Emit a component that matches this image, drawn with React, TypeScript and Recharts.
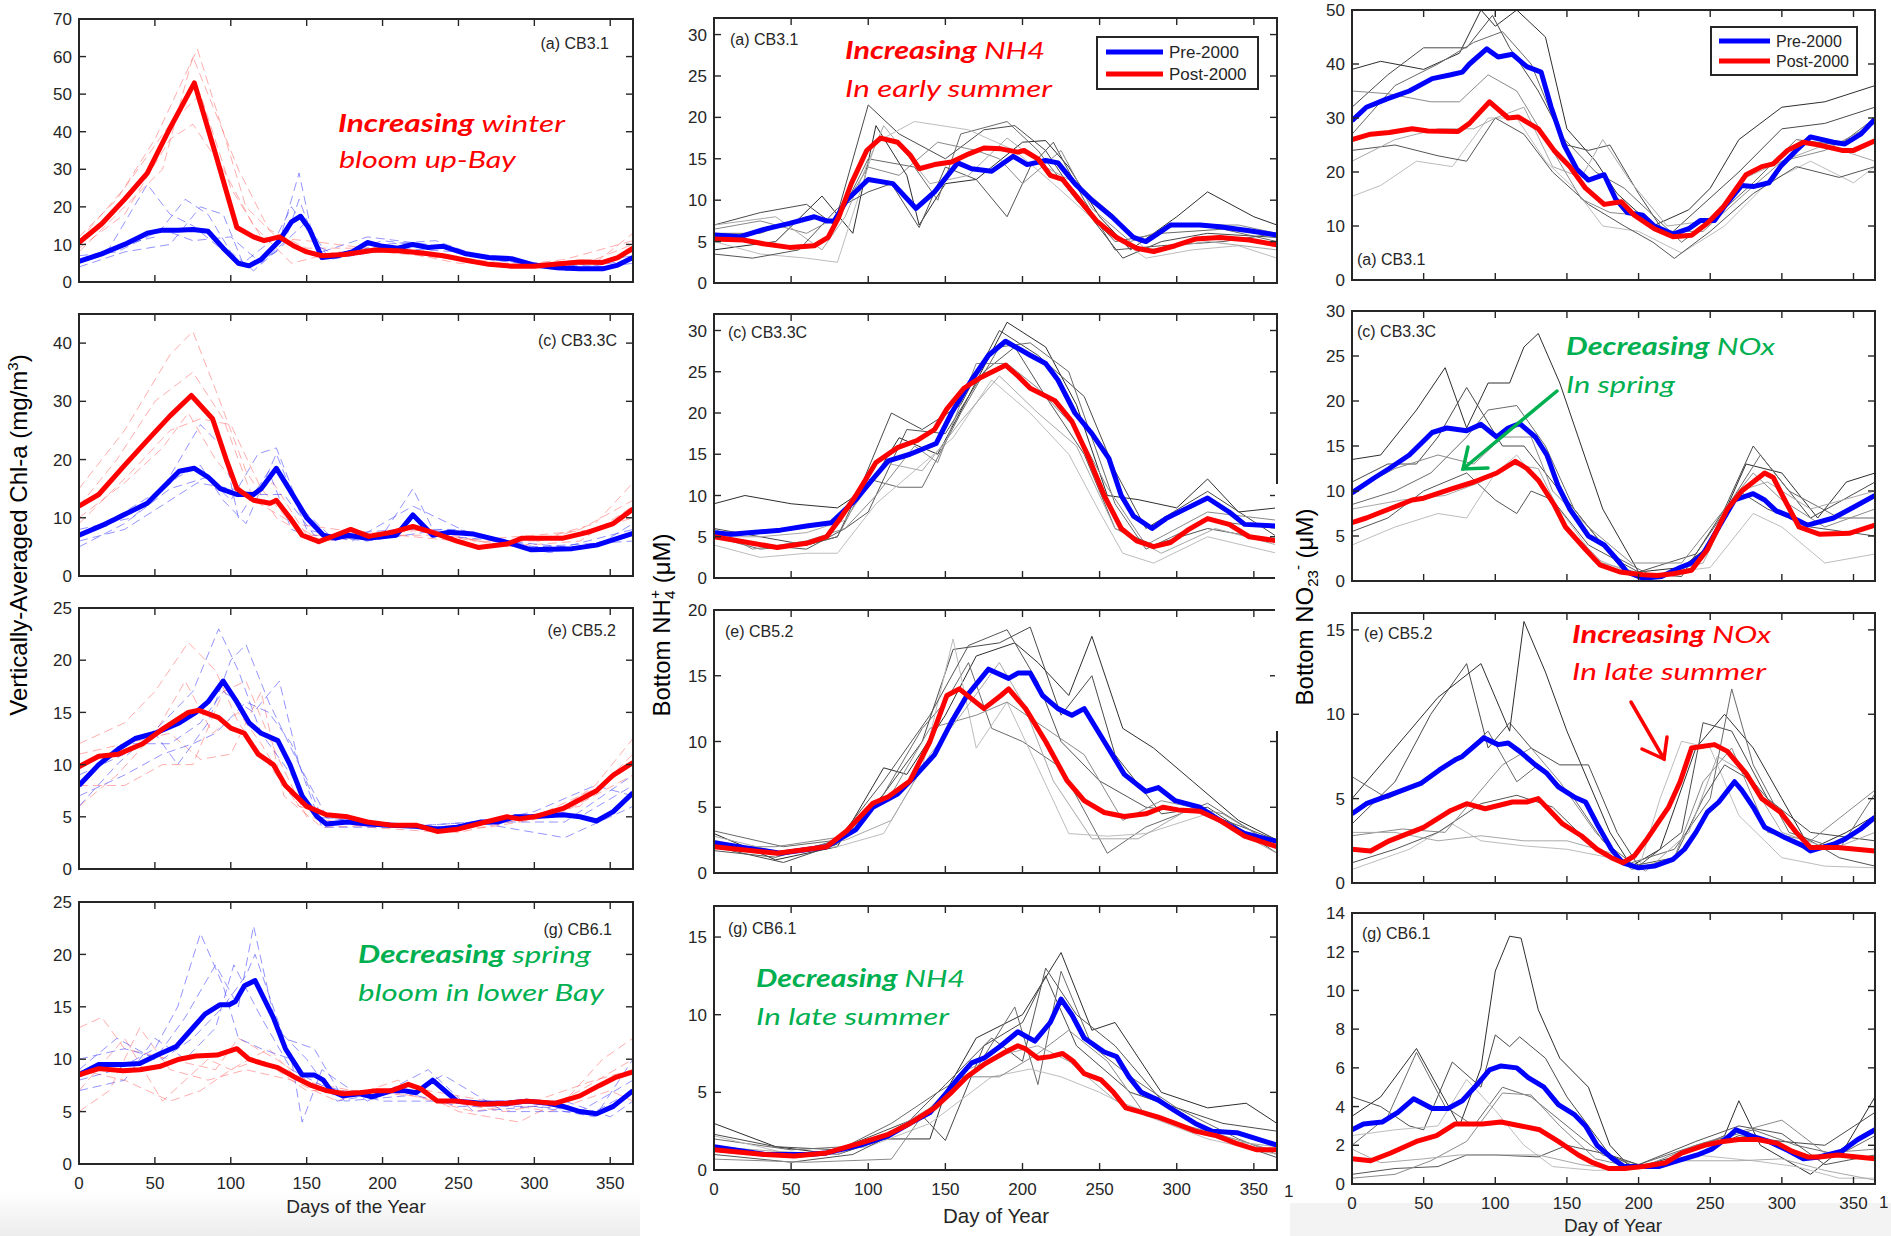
import React from "react";
import { LineChart, Line, XAxis, YAxis } from "recharts";

type Pt = [number, number];

// ---------- axis ticks ----------
const DAY_TICKS = [0, 50, 100, 150, 200, 250, 300, 350];
const TICKS_70 = [0, 10, 20, 30, 40, 50, 60, 70];
const TICKS_40 = [0, 10, 20, 30, 40];
const TICKS_25 = [0, 5, 10, 15, 20, 25];
const TICKS_30 = [0, 5, 10, 15, 20, 25, 30];
const TICKS_20 = [0, 5, 10, 15, 20];
const TICKS_15 = [0, 5, 10, 15];
const TICKS_50 = [0, 10, 20, 30, 40, 50];
const TICKS_14 = [0, 2, 4, 6, 8, 10, 12, 14];

// ---------- Chl-a, CB3.1 ----------
const A1_PRE: Pt[] = [[0,5.5],[15,7.5],[30,10],[45,13],[55,13.8],[65,13.8],[75,14],[85,13.5],[95,9],[105,5],[112,4.3],[120,6],[132,11],[140,16],[146,17.5],[152,14],[160,6.5],[170,7],[180,8],[190,10.5],[200,9.5],[210,9],[220,10],[230,9.2],[240,9.5],[255,7.5],[270,6.5],[285,6.2],[300,4.5],[315,3.8],[330,3.5],[345,3.5],[355,4.5],[365,6.5]];
const A1_POST: Pt[] = [[0,10.5],[15,15.5],[30,22],[45,29],[60,41],[76,53],[90,34],[104,14.5],[115,12],[122,11],[132,12],[142,9.5],[150,8],[160,7],[175,7.3],[195,8.5],[210,8.3],[225,7.8],[240,7],[255,5.8],[270,4.7],[285,4.2],[300,4.2],[315,4.8],[330,5.3],[345,5.2],[355,6.5],[365,9]];
const A1_YRS_PRE: Pt[][] = [
  [[0,5],[20,9],[45,26],[60,18],[75,15],[90,10],[110,4],[130,8],[145,29],[155,10],[170,7],[200,11],[240,9],[280,6],[320,3],[365,6]],
  [[0,6],[30,10],[50,12],[70,22],[85,18],[100,8],[115,3],[135,10],[145,22],[160,6],[200,10],[235,11],[270,6],[320,4],[365,7]],
  [[0,4],[30,8],[60,10],[80,20],[95,18],[108,5],[130,12],[140,20],[160,8],[190,12],[230,10],[270,6],[330,3],[365,5]],
  [[0,7],[25,8],[55,14],[75,11],[100,12],[120,5],[150,16],[165,6],[210,9],[250,8],[300,5],[350,4],[365,6]],
];
const A1_YRS_POST: Pt[][] = [
  [[0,12],[25,22],[50,38],[78,62],[95,40],[110,20],[130,12],[160,7],[200,8],[250,6],[300,4],[340,5],[365,13]],
  [[0,8],[30,20],[55,30],[75,60],[90,45],[105,30],[125,14],[150,9],[200,9],[250,5],[300,5],[340,6],[365,10]],
  [[0,9],[30,18],[60,38],[75,42],[95,30],[115,15],[140,5],[170,8],[210,8],[260,6],[300,4],[340,5],[365,8]],
  [[0,11],[30,25],[60,42],[80,50],[100,25],[120,12],[150,11],[190,9],[230,7],[280,4],[320,6],[365,11]],
];

// ---------- Chl-a, CB3.3C ----------
const A2_PRE: Pt[] = [[0,7],[18,9],[45,12.5],[66,18],[76,18.5],[85,17],[93,15],[104,14],[115,14],[120,15],[130,18.5],[136,16],[150,10],[161,7],[169,6.5],[177,7],[190,6.5],[209,7],[220,10.5],[233,7],[244,7.5],[260,7.2],[279,6],[298,4.5],[325,4.7],[341,5.3],[365,7.3]];
const A2_POST: Pt[] = [[0,12],[13,14],[30,19],[45,23.3],[60,27.5],[74,31],[88,27],[97,20],[104,15],[115,13],[126,12.5],[130,13],[139,10],[147,7],[158,5.9],[169,7],[179,8],[191,6.8],[206,7.5],[220,8.5],[233,7.5],[249,6],[263,4.9],[282,5.5],[292,6.5],[319,6.5],[335,7.5],[352,9],[365,11.5]];
const A2_YRS_PRE: Pt[][] = [
  [[0,7],[30,11],[55,15],[80,26],[95,22],[105,10],[125,18],[140,8],[160,6],[200,7],[220,15],[235,7],[280,6],[320,5],[365,8]],
  [[0,5],[30,9],[60,15],[85,17],[100,13],[118,21],[130,22],[145,12],[165,7],[210,8],[250,8],[300,5],[365,6]],
  [[0,8],[35,10],[65,17],[80,19],[95,13],[110,9],[130,21],[150,8],[180,6],[220,12],[260,7],[310,4],[365,7]],
  [[0,6],[30,8],[60,13],[78,16],[100,15],[120,14],[135,14],[155,7],[190,6],[240,8],[290,5],[340,5],[365,9]],
];
const A2_YRS_POST: Pt[][] = [
  [[0,15],[30,25],[60,38],[75,42],[90,32],[110,18],[130,10],[150,7],[180,7],[220,8],[260,6],[300,6],[340,9],[365,16]],
  [[0,12],[25,20],[50,30],[75,35],[95,27],[115,13],[135,10],[160,6],[200,7],[240,7],[290,5],[330,8],[365,13]],
  [[0,9],[35,18],[60,25],[80,27],[100,26],[120,15],[140,9],[170,8],[210,7],[250,6],[300,7],[340,8],[365,10]],
  [[0,10],[30,16],[55,22],[72,28],[90,20],[110,14],[128,16],[150,7],[190,7],[230,8],[280,5],[330,6],[365,12]],
];

// ---------- Chl-a, CB5.2 ----------
const A3_PRE: Pt[] = [[0,8],[13,10],[26,11.5],[37,12.5],[50,13],[66,14],[77,15],[85,16],[95,18],[104,16],[112,14],[120,13],[131,12.3],[139,10],[147,7],[157,5],[163,4.3],[177,4.5],[190,4.3],[206,4.2],[222,4.1],[236,3.8],[249,4],[265,4.5],[276,4.5],[287,5],[298,5],[319,5.2],[330,5],[341,4.6],[352,5.5],[365,7.3]];
const A3_POST: Pt[] = [[0,9.8],[13,10.8],[26,11],[42,12],[56,13.5],[72,15],[79,15.2],[92,14.5],[100,13.5],[109,13],[118,11],[128,10],[136,8],[150,6],[163,5.2],[177,5],[190,4.5],[206,4.2],[222,4.2],[236,3.6],[249,3.8],[268,4.5],[282,5],[290,4.8],[300,5],[319,5.8],[341,7.5],[352,9],[365,10.2]];
const A3_YRS_PRE: Pt[][] = [
  [[0,6],[25,10],[55,14],[75,17],[92,23],[105,19],[120,13],[140,9],[155,5],[190,4.5],[240,4],[290,5],[330,5],[365,8]],
  [[0,9],[30,11],[50,13],[65,10],[85,14],[100,20],[110,21.5],[125,16],[145,10],[165,4.5],[210,4],[260,4.5],[320,3],[365,6]],
  [[0,8],[30,12],[60,12],[80,14],[95,17],[115,15],[132,18],[145,10],[160,5],[200,4.2],[250,4],[300,5.5],[340,8],[365,7]],
  [[0,7],[30,9],[55,11],[75,12],[90,13],[110,16],[125,15],[140,12],[160,4],[210,4],[260,4.5],[320,4.5],[365,9]],
];
const A3_YRS_POST: Pt[][] = [
  [[0,12],[30,14],[50,17],[72,21.7],[90,19],[105,14],[125,10],[145,6],[170,5],[220,4],[270,4],[310,5],[340,8],[365,12.5]],
  [[0,8],[30,8],[55,10],[75,10],[95,17],[110,18],[130,11],[150,5],[190,4],[240,3.5],[290,5],[330,6],[365,11]],
  [[0,6],[25,9],[50,13],[70,18],[88,13],[105,15],[120,12],[145,6],[180,4.5],[230,4],[280,4.5],[320,5.5],[365,9]],
  [[0,11],[30,12],[60,13],[80,10.5],[100,11],[120,17],[135,7],[160,4],[200,4.2],[250,3.5],[300,5],[345,8],[365,10]],
];

// ---------- Chl-a, CB6.1 ----------
const A4_PRE: Pt[] = [[0,8.5],[13,9.5],[29,9.5],[40,9.6],[53,10.5],[64,11.2],[72,12.5],[83,14.3],[93,15.2],[99,15.2],[103,15.5],[109,17],[116,17.5],[128,14],[136,11],[147,8.5],[155,8.5],[161,8],[166,7],[174,6.5],[185,6.7],[193,6.4],[206,7],[214,7],[222,6.8],[233,8],[241,7],[249,6],[265,5.8],[282,5.8],[295,6],[309,5.8],[319,5.5],[330,5],[341,4.8],[352,5.5],[365,7]];
const A4_POST: Pt[] = [[0,8.5],[13,9.1],[29,8.9],[40,9],[53,9.3],[66,10],[77,10.3],[91,10.4],[104,11],[112,10],[123,9.5],[131,9.2],[142,8.3],[153,7.5],[163,7],[174,6.7],[185,6.8],[196,7],[206,7],[217,7.6],[225,7.2],[236,6],[249,6],[265,5.7],[282,5.8],[295,6],[314,5.8],[330,6.5],[343,7.5],[354,8.3],[365,8.8]];
const A4_YRS_PRE: Pt[][] = [
  [[0,8],[25,9],[50,11],[65,15],[80,22],[95,17],[105,12],[120,11],[140,10],[147,4],[160,9],[190,6],[230,9],[260,5],[300,5.5],[340,4.5],[365,10]],
  [[0,9],[25,12],[50,10],[70,14],[90,19],[105,15],[115,22.7],[130,13],[150,10],[170,6],[210,7],[250,5.5],[300,5.5],[340,5],[365,7]],
  [[0,10],[30,11],[55,10],[75,12],[95,15],[110,18],[116,20],[135,12],[155,11],[175,6],[215,6.5],[240,8.5],[280,5],[330,5],[365,8]],
  [[0,7],[30,8],[50,12],[70,10],[90,13],[102,19],[120,14],[140,9],[160,7.5],[200,6],[240,6],[280,6],[320,6],[350,4.5],[365,6]],
];
const A4_YRS_POST: Pt[][] = [
  [[0,13],[15,14],[30,11],[60,10],[90,9],[105,12],[130,10],[160,7],[200,7],[240,6],[280,5],[320,6],[345,10],[365,12]],
  [[0,5],[20,7],[40,13],[60,9],[85,8],[110,9],[140,8],[170,6],[210,8],[250,5],[290,4],[330,7],[365,10]],
  [[0,7],[30,12],[55,6],[85,10],[100,9],[120,10],[150,7],[190,7],[230,7],[270,6],[310,5],[350,7],[365,6]],
  [[0,9],[30,8],[60,6],[80,7],[100,9],[125,11],[145,8],[180,7],[220,6.5],[260,5],[300,6],[340,8],[365,9]],
];

// ---------- Bottom NH4, CB3.1 ----------
const B1_PRE: Pt[] = [[0,5.8],[17,5.6],[33,6.5],[49,7.2],[65,8],[73,7.5],[78,7.5],[86,10],[100,12.5],[116,12],[131,9],[143,11],[158,14.5],[167,13.8],[180,13.5],[194,15.3],[203,14.3],[215,14.8],[223,14.5],[234,12],[245,10],[258,8],[272,5.5],[280,5],[288,6],[296,7],[315,7],[328,6.8],[347,6.3],[365,5.8]];
const B1_POST: Pt[] = [[0,5.3],[19,5.2],[33,4.7],[49,4.3],[65,4.5],[74,5.5],[81,8],[89,12],[99,16],[108,17.5],[119,17],[127,15.5],[133,13.8],[143,14.3],[154,14.6],[164,15.5],[175,16.3],[186,16.2],[197,15.8],[201,16],[210,15],[218,13],[226,12.5],[237,10],[248,7.5],[261,5.5],[274,4.2],[285,3.8],[299,4.5],[312,5.3],[328,5.5],[347,5.2],[365,4.6]];
const B1_YRS: Pt[][] = [
  [[0,4],[40,5],[70,10.5],[90,6],[105,19],[125,13],[133,7],[150,12],[170,12.5],[200,17],[215,17.2],[230,14],[250,8],[270,4],[300,8],[320,11],[350,8],[365,7]],
  [[0,7],[30,8.5],[60,9.5],[78,7],[100,21.5],[120,18],[150,15],[175,18.5],[195,19],[215,16],[240,9],[265,3],[290,5],[320,6],[365,5.5]],
  [[0,6],[30,6],[60,8],[80,7.5],[100,15],[130,14],[145,10],[160,18],[190,19.5],[210,16],[235,10],[260,5],[290,6],[330,6.5],[365,5]],
  [[0,5],[30,3.5],[60,3],[80,2.5],[105,17],[130,19.5],[165,18.5],[195,16],[220,12],[250,7],[280,3],[310,4],[340,4.5],[365,3]],
  [[0,3.5],[25,3],[55,4],[80,9],[100,11],[115,12],[133,6.7],[150,14],[170,12.5],[190,8],[205,14],[220,17],[240,10],[260,4],[290,4.5],[330,5],[365,6]],
  [[0,6.5],[30,7.5],[60,6],[80,8],[100,14],[120,13],[145,17],[170,16],[185,15],[200,12],[225,16],[245,9],[270,5],[300,7],[340,7],[365,6]],
  [[0,7],[40,8],[70,4],[85,8],[110,19],[140,12],[165,13],[190,17.5],[215,14],[235,12],[260,8],[280,4],[320,5],[365,4]],
];

// ---------- Bottom NH4, CB3.3C ----------
const B2_PRE: Pt[] = [[0,5.5],[11,5.3],[43,5.8],[60,6.3],[76,6.7],[92,9.5],[103,12],[113,14.2],[127,15],[144,16.3],[154,20],[167,24],[178,27],[189,28.7],[205,27],[215,26],[223,24],[234,20],[245,17.5],[256,14.5],[264,10],[272,7.5],[284,6],[293,7.2],[307,8.5],[320,9.7],[334,8],[344,6.5],[365,6.3]];
const B2_POST: Pt[] = [[0,5],[22,4.3],[41,3.7],[60,4.2],[73,5],[81,7],[92,10],[105,14],[119,15.8],[132,16.7],[143,18],[151,20.5],[162,23],[172,24.2],[189,25.8],[197,24.5],[205,23],[221,21.5],[232,19],[242,15],[253,10],[264,6],[274,4.5],[285,3.8],[296,4.3],[307,5.8],[320,7.2],[334,6.5],[347,5],[365,4.5]];
const B2_YRS: Pt[][] = [
  [[0,9],[20,10],[50,9],[80,8.5],[100,11],[120,17],[145,15],[165,22],[190,31],[215,28],[235,21],[255,10],[275,9.5],[300,8.5],[320,12],[340,8],[365,8.5]],
  [[0,6],[30,5],[60,4],[80,5],[95,11],[115,20],[135,18],[160,21],[185,30],[210,27],[240,22],[260,13],[280,6],[320,10.5],[365,5]],
  [[0,5],[30,3.5],[60,4],[80,5],[100,12],[120,11],[135,11],[160,20],[185,28],[205,28.5],[230,25],[260,9],[280,3.5],[320,7],[365,6]],
  [[0,4],[30,2.5],[60,3],[80,3],[105,9],[130,13],[155,17],[180,24],[205,20],[230,15],[250,8],[265,3],[285,1.8],[320,5],[365,3]],
  [[0,5],[30,4],[60,3.5],[85,6],[100,8],[125,18],[150,17.5],[175,25],[195,28],[215,22],[240,15],[260,6],[285,4],[320,6],[365,4.5]],
  [[0,6],[25,3.5],[60,4.5],[85,6],[105,10],[130,16],[145,14],[170,26],[190,26],[210,23],[235,18],[255,11],[280,4],[320,8],[365,7]],
  [[0,5],[30,5],[60,5.5],[85,7],[110,14],[135,13],[160,19],[185,24.5],[210,20],[235,16],[260,6],[290,3],[325,6],[365,4]],
];

// ---------- Bottom NH4, CB5.2 ----------
const B3_PRE: Pt[] = [[0,2.3],[43,1.5],[73,2],[92,3.3],[103,5],[119,6],[129,7.2],[143,9],[154,11.5],[164,13.5],[178,15.5],[191,14.8],[197,15.2],[205,15.2],[213,13.5],[223,12.5],[232,12],[240,12.5],[253,10],[266,7.5],[280,6.2],[288,6.5],[299,5.5],[315,5],[328,4],[344,3],[365,2.4]];
const B3_POST: Pt[] = [[0,2],[41,1.5],[73,2],[86,3.2],[103,5.3],[113,5.8],[127,7],[140,10],[151,13.5],[159,14],[175,12.5],[186,13.5],[191,14],[202,12.5],[215,10],[229,7],[240,5.5],[253,4.6],[266,4.3],[280,4.5],[291,5],[301,4.8],[315,4.7],[328,4],[344,2.8],[365,2]];
const B3_YRS: Pt[][] = [
  [[0,3],[40,1],[80,2],[110,8],[125,7.5],[150,12],[170,16.5],[195,17.5],[210,16],[230,13.5],[245,18],[265,11],[285,9.5],[310,7],[340,4],[365,2.5]],
  [[0,2],[45,0.8],[80,2.2],[110,6],[135,10],[155,17],[185,17.5],[205,18.7],[225,12],[245,15],[260,9],[290,4.5],[320,5],[365,1.5]],
  [[0,3.2],[45,2],[80,2.5],[105,5],[135,11],[150,13],[165,16],[180,11],[200,10],[225,8],[255,1.5],[280,3.5],[320,5.3],[365,2]],
  [[0,2.5],[40,1.5],[80,2],[110,3],[135,8],[155,17.8],[170,9.5],[190,13],[210,8],[230,3],[255,2.8],[280,3],[320,4.5],[365,1.8]],
  [[0,1.7],[40,1.2],[80,2.5],[110,7],[140,12],[165,17.3],[190,18.5],[210,14.5],[225,10],[250,7],[280,5],[320,4.5],[365,2.5]],
  [[0,2],[40,2],[80,2.7],[115,6],[140,11],[170,12],[190,13],[215,11],[240,9],[265,4],[290,5.5],[330,4.5],[365,2]],
  [[0,2.8],[45,1.5],[85,2.5],[115,4],[140,9],[160,12],[185,16],[200,13],[220,7],[245,2.6],[275,2.6],[310,5],[365,1.5]],
];

// ---------- Bottom NH4, CB6.1 ----------
const B4_PRE: Pt[] = [[0,1.5],[33,1],[60,1],[73,1.1],[95,1.6],[113,2.2],[127,3],[140,3.7],[151,5],[159,6],[167,6.9],[175,7.2],[186,8],[197,8.9],[208,8.3],[218,9.5],[225,11],[232,10],[240,8.5],[253,7.6],[261,7.3],[269,6],[277,5],[288,4.5],[299,3.8],[312,3],[323,2.5],[339,2.4],[352,2],[365,1.6]];
const B4_POST: Pt[] = [[0,1.3],[33,1],[52,0.9],[73,1.1],[97,1.8],[113,2.3],[127,3],[143,4],[154,5],[164,6],[175,6.8],[189,7.6],[197,8],[202,7.8],[210,7.2],[218,7.3],[226,7.5],[233,7],[240,6.2],[251,5.8],[259,5],[267,4],[278,3.7],[288,3.4],[299,3],[312,2.5],[326,2.2],[339,1.7],[352,1.3],[365,1.3]];
const B4_YRS: Pt[][] = [
  [[0,3],[40,1.5],[80,1],[110,2],[140,2],[150,5],[170,8.5],[200,10],[225,14],[245,9],[260,9.5],[290,5],[320,4],[345,4.3],[365,3]],
  [[0,2.3],[40,1.5],[80,1.3],[110,2.5],[135,3.5],[150,1.9],[175,8],[200,9.5],[215,12.5],[235,8],[270,5],[300,4],[330,3],[365,2.5]],
  [[0,2],[50,1.3],[85,1.5],[115,3],[145,5],[170,6.5],[195,10.5],[210,5.5],[225,12.8],[245,8],[270,6],[300,4],[340,2],[365,1]],
  [[0,2.2],[50,1],[100,1.5],[140,3],[180,6],[205,6.5],[225,6],[250,5],[280,3.5],[320,2],[365,1]],
  [[0,1],[50,0.5],[90,1],[120,2.5],[150,5.5],[180,8.5],[200,7],[215,13],[235,10],[260,8],[290,4.5],[330,2],[365,0.8]],
  [[0,0.7],[60,0.5],[115,0.7],[135,3.5],[160,6],[185,6],[210,7.5],[230,9],[255,7],[280,3.5],[320,2.5],[365,1.2]],
  [[0,1.5],[40,1.2],[80,1],[110,2.2],[140,4],[165,6.5],[190,7.5],[210,8],[230,7],[260,4.5],[300,3],[340,1.8],[365,1.5]],
];

// ---------- Bottom NO23, CB3.1 ----------
const C1_PRE: Pt[] = [[0,29.5],[10,32],[24,33.5],[40,35],[56,37.3],[69,38],[77,38.5],[82,40],[94,42.8],[102,41.3],[112,41.8],[122,39.5],[132,38.5],[139,32],[148,25],[157,20.5],[165,18.5],[176,19.5],[184,15],[192,12.5],[203,12],[211,10],[224,8.5],[235,9.5],[243,11],[253,11],[261,14],[272,17.5],[280,17.3],[291,18],[299,21],[310,24],[320,26.5],[336,25.5],[344,25.2],[355,27],[365,29.8]];
const C1_POST: Pt[] = [[0,26],[13,27],[26,27.3],[42,28],[53,27.6],[74,27.5],[82,29],[96,33],[109,30],[116,30.2],[130,28],[141,24],[152,21],[163,17],[176,14],[188,14.5],[197,12],[211,9.5],[224,8],[237,8.3],[248,10.5],[259,13.5],[275,19.5],[286,21],[294,21.5],[304,24],[315,25.5],[326,25],[342,24],[350,24],[365,25.8]];
const C1_YRS: Pt[][] = [
  [[0,39],[20,40.5],[50,39],[75,42],[90,50],[100,47],[115,50],[135,45],[150,28],[170,22],[185,16],[210,10],[235,13],[250,17],[270,26],[300,32],[330,33],[365,36]],
  [[0,32],[25,38],[50,43],[80,43],[98,49],[110,43],[130,35],[150,25],[165,24],[180,25],[200,16],[220,8],[245,14],[270,20],[300,28],[330,29],[365,32]],
  [[0,27],[30,36],[60,40],[85,44],[105,46],[125,40],[145,27],[170,20],[190,17],[210,12],[230,7],[255,12],[280,18],[310,26],[340,25],[365,30]],
  [[0,15.5],[20,17.5],[45,22],[70,21],[95,30],[115,30],[135,22],[155,17],[175,10],[200,9],[230,5],[260,10],[290,18],[320,22],[350,18],[365,21]],
  [[0,24],[30,25],[60,23],[80,22],[100,30],[120,27],[140,20],[165,14],[190,10],[210,7],[225,4],[250,9],[280,16],[310,21],[340,19],[365,21]],
  [[0,35],[25,34.5],[55,33],[75,33],[95,38],[115,35],[140,24],[160,15],[180,12.5],[200,12],[215,9],[245,9],[270,15],[300,22],[330,24],[365,29]],
  [[0,22],[30,26],[60,28],[85,28],[100,30],[120,32],[140,21],[160,19],[175,26],[195,18],[220,10],[250,11],[275,19],[300,22],[330,25],[365,22]],
];

// ---------- Bottom NO23, CB3.3C ----------
const C2_PRE: Pt[] = [[0,9.8],[16,11.5],[26,12.5],[40,14],[56,16.5],[66,17],[80,16.7],[90,17.4],[101,16],[109,17],[117,17.5],[128,16],[136,14],[144,10.5],[152,8],[165,5],[176,4],[187,2],[192,1],[203,0.3],[216,0.5],[229,1.5],[237,2],[245,3],[256,6],[267,9],[280,9.7],[288,9],[296,7.8],[304,7.3],[318,6.2],[336,7],[350,8.2],[365,9.5]];
const C2_POST: Pt[] = [[0,6.5],[10,7],[26,8],[42,9],[50,9.2],[69,10.2],[85,11],[101,12],[114,13.3],[122,12.5],[130,11.2],[141,8.5],[149,6],[163,3.5],[173,1.8],[187,1],[203,0.7],[213,0.6],[224,0.8],[237,1.2],[248,3.5],[262,8],[272,10],[288,12],[294,11.5],[302,9],[312,6],[326,5.2],[347,5.3],[365,6.2]];
const C2_YRS: Pt[][] = [
  [[0,13.5],[20,14],[45,19],[65,23.7],[80,17],[95,22],[110,22],[120,26],[130,27.5],[145,22],[160,15],[175,8],[200,1],[230,1.5],[250,4],[275,13],[300,12],[325,7],[345,11],[365,12]],
  [[0,11],[25,13],[45,13],[60,16],[80,21.5],[105,15],[120,15],[140,11],[160,7],[190,1],[230,0.5],[260,8],[280,15],[295,12],[320,7],[365,11]],
  [[0,8.5],[30,10],[55,12],[80,16],[95,19],[115,19.5],[135,15],[155,8],[180,3],[210,0.5],[240,1.5],[265,9],[285,14],[305,10],[340,7],[365,7]],
  [[0,4],[30,6],[60,7.5],[80,7],[100,12],[115,14],[140,9],[170,2.5],[200,0.5],[250,1.5],[280,7.5],[300,6],[330,2],[365,3]],
  [[0,5.5],[25,7],[50,10],[80,12],[100,9],[115,7.5],[125,10],[140,9],[165,4],[200,1],[240,3],[270,10],[290,8],[320,6],[365,5]],
  [[0,10],[30,12.5],[60,14],[85,13],[105,16],[125,16],[140,10],[165,6],[195,2],[230,2],[255,7],[280,12],[300,9],[330,6],[365,8]],
  [[0,8],[35,9],[65,9.5],[90,11],[110,13],[130,12.5],[150,6],[175,2],[210,0.5],[245,2],[270,10],[290,11],[320,8],[365,10]],
];

// ---------- Bottom NO23, CB5.2 ----------
const C3_PRE: Pt[] = [[0,4.1],[10,4.7],[29,5.3],[48,5.9],[61,6.7],[72,7.3],[77,7.5],[92,8.6],[102,8.2],[109,8.3],[117,7.8],[128,7],[136,6.5],[144,5.7],[155,5.1],[163,4.8],[171,3.5],[181,2],[189,1.2],[200,0.9],[211,1],[224,1.4],[232,2],[240,3],[248,4.2],[256,4.8],[267,6],[272,5.5],[280,4.5],[288,3.3],[302,2.7],[315,2.2],[320,1.9],[336,2.3],[344,2.6],[355,3.2],[365,3.9]];
const C3_POST: Pt[] = [[0,2],[13,1.9],[26,2.5],[50,3.3],[69,4.3],[80,4.7],[93,4.4],[112,4.8],[122,4.8],[130,5],[138,4.3],[147,3.5],[160,2.8],[171,2],[181,1.5],[189,1.2],[197,1.6],[205,2.5],[213,3.5],[221,4.5],[229,6],[237,8],[253,8.2],[262,7.8],[275,6.5],[286,5],[299,4.2],[310,3],[320,2.1],[339,2.1],[365,1.9]];
const C3_YRS: Pt[][] = [
  [[0,5],[30,8],[60,11],[90,13],[110,9],[120,15.5],[135,12.5],[150,9],[160,7],[180,3],[195,1],[215,2],[240,8],[260,10],[280,8],[300,5],[320,2],[345,3],[365,4]],
  [[0,3.5],[30,6],[55,10],[80,13],[95,8],[110,9.5],[125,8],[145,7],[165,7],[185,3],[200,1],[230,3],[245,9.5],[265,9],[290,5],[320,3],[365,2.5]],
  [[0,6.3],[25,5],[50,6],[75,7.5],[95,9],[115,6],[130,7],[155,5],[175,2.5],[195,1.2],[225,2],[250,5],[265,11.5],[280,7],[305,3],[340,2],[365,5.3]],
  [[0,0.8],[40,2],[70,3.5],[90,2.5],[120,2.2],[150,2],[180,1.5],[200,0.8],[215,5],[230,8.4],[250,8],[270,4],[300,1.5],[330,1],[365,0.9]],
  [[0,1.2],[30,2],[60,3],[90,4.7],[115,5.2],[140,4.5],[170,2],[195,1],[225,1.5],[245,5],[260,7],[280,6],[310,3],[340,1.5],[365,1]],
  [[0,2.8],[35,3.2],[65,3],[85,5],[105,7],[125,8],[145,6],[170,3],[195,0.8],[225,1.5],[245,6],[265,8],[290,3],[320,2.5],[365,5.5]],
  [[0,3],[30,3],[60,2.5],[90,2.8],[120,2.5],[150,2.5],[180,1.8],[205,0.7],[235,3],[255,7.5],[275,6.5],[300,3],[335,2],[365,3]],
];

// ---------- Bottom NO23, CB6.1 ----------
const C4_PRE: Pt[] = [[0,2.8],[8,3.1],[21,3.2],[32,3.7],[43,4.4],[56,3.9],[67,3.9],[77,4.3],[88,5.2],[96,5.9],[104,6.1],[115,6],[123,5.5],[134,5],[144,4.1],[155,3.6],[163,3],[171,2],[182,1.3],[190,0.9],[200,0.9],[214,0.9],[227,1.2],[241,1.5],[251,1.8],[262,2.4],[268,2.8],[278,2.5],[291,2.2],[305,1.7],[315,1.3],[326,1.4],[342,1.7],[353,2.3],[365,2.8]];
const C4_POST: Pt[] = [[0,1.3],[13,1.2],[27,1.6],[45,2.2],[59,2.5],[72,3.1],[91,3.1],[104,3.2],[118,3],[131,2.8],[144,2.2],[158,1.5],[168,1.1],[179,0.8],[190,0.8],[203,0.9],[219,1.1],[230,1.6],[246,2],[259,2.2],[270,2.3],[283,2.3],[297,2.1],[307,1.7],[318,1.4],[326,1.4],[339,1.5],[365,1.3]];
const C4_YRS: Pt[][] = [
  [[0,3.5],[20,4.5],[45,7],[60,5],[75,3],[90,6],[100,11],[110,12.8],[118,12.7],[130,9],[145,6.5],[165,5],[180,2],[195,0.8],[230,1.5],[260,2.5],[270,4.3],[285,2],[320,0.5],[345,2],[365,4.5]],
  [[0,4.5],[20,4],[40,3],[50,2.8],[70,6.3],[90,5],[100,7.7],[110,7.1],[117,7.6],[135,6.5],[150,4.5],[180,1.5],[200,0.8],[240,1.5],[270,2.5],[300,2.2],[330,2],[365,3.7]],
  [[0,2],[25,3.5],[45,6.8],[65,4],[85,3],[105,5],[125,4.5],[150,3],[175,1.5],[200,1],[240,2],[280,2.8],[310,2],[340,1.5],[365,2.5]],
  [[0,2.5],[30,2.8],[60,3],[80,5.4],[100,3.8],[120,2],[140,0.9],[170,0.7],[200,0.8],[240,1.5],[280,1.2],[310,0.9],[340,0.3],[365,0.3]],
  [[0,0.5],[30,0.8],[60,0.9],[80,1.5],[100,1.5],[130,1.4],[150,2],[180,1.5],[200,1],[240,2.2],[270,3],[300,2.6],[330,1],[365,1.5]],
  [[0,0.3],[30,0.5],[55,1.2],[80,2.2],[105,4.7],[125,4.6],[145,3],[170,1.3],[200,0.8],[240,2],[270,2.7],[300,3.3],[330,1.6],[365,1.8]],
  [[0,1.8],[20,1.1],[50,1.3],[75,1.5],[100,1.5],[130,1.5],[160,1],[190,0.7],[230,1.2],[270,1.2],[300,1.3],[330,0.7],[365,0.2]],
];

// ---------- styles ----------
const INK = "#262626";
const SANS = "'Liberation Sans', Arial, Helvetica, sans-serif";
const NOTE_FONT = "Lato, 'Open Sans', sans-serif";
const BLUE = "#0000ff";
const RED = "#ff0000";
const GREEN = "#00b050";
const GRAYS = ["#2e2e2e", "#4a4a4a", "#6a6a6a", "#bdbdbd", "#555555", "#8a8a8a", "#a8a8a8"];
const TICK = 7;

interface Thin { pts: Pt[]; color: string; dash?: string; opacity: number }
interface PanelSpec {
  box: [number, number, number, number];
  ymax: number;
  yTicks: number[];
  pre: Pt[];
  post: Pt[];
  thin: Thin[];
  showX: boolean;
  label: string;
  labelX: number;
  labelY: number;
  labelAnchor: "start" | "end";
}

const chlThin = (pre: Pt[][], post: Pt[][]): Thin[] => [
  ...post.map((pts) => ({ pts, color: "#ff5c5c", dash: "9 5", opacity: 0.5 })),
  ...pre.map((pts) => ({ pts, color: "#3d3dff", dash: "9 5", opacity: 0.55 })),
];
const grayThin = (yrs: Pt[][]): Thin[] =>
  yrs.map((pts, i) => ({ pts, color: GRAYS[i % GRAYS.length], opacity: 1 }));

const COL_A: [number, number] = [79, 633];
const COL_B: [number, number] = [714, 1277];
const COL_C: [number, number] = [1352, 1875];

const PANELS: PanelSpec[] = [
  { box: [COL_A[0], 19, COL_A[1], 282], ymax: 70, yTicks: TICKS_70, pre: A1_PRE, post: A1_POST, thin: chlThin(A1_YRS_PRE, A1_YRS_POST), showX: false, label: "(a) CB3.1", labelX: 609, labelY: 49, labelAnchor: "end" },
  { box: [COL_A[0], 314, COL_A[1], 576], ymax: 45, yTicks: TICKS_40, pre: A2_PRE, post: A2_POST, thin: chlThin(A2_YRS_PRE, A2_YRS_POST), showX: false, label: "(c) CB3.3C", labelX: 617, labelY: 346, labelAnchor: "end" },
  { box: [COL_A[0], 608, COL_A[1], 869], ymax: 25, yTicks: TICKS_25, pre: A3_PRE, post: A3_POST, thin: chlThin(A3_YRS_PRE, A3_YRS_POST), showX: false, label: "(e) CB5.2", labelX: 616, labelY: 636, labelAnchor: "end" },
  { box: [COL_A[0], 902, COL_A[1], 1164], ymax: 25, yTicks: TICKS_25, pre: A4_PRE, post: A4_POST, thin: chlThin(A4_YRS_PRE, A4_YRS_POST), showX: true, label: "(g) CB6.1", labelX: 612, labelY: 935, labelAnchor: "end" },
  { box: [COL_B[0], 18, COL_B[1], 283], ymax: 32, yTicks: TICKS_30, pre: B1_PRE, post: B1_POST, thin: grayThin(B1_YRS), showX: false, label: "(a) CB3.1", labelX: 730, labelY: 45, labelAnchor: "start" },
  { box: [COL_B[0], 314, COL_B[1], 578], ymax: 32, yTicks: TICKS_30, pre: B2_PRE, post: B2_POST, thin: grayThin(B2_YRS), showX: false, label: "(c) CB3.3C", labelX: 728, labelY: 338, labelAnchor: "start" },
  { box: [COL_B[0], 610, COL_B[1], 873], ymax: 20, yTicks: TICKS_20, pre: B3_PRE, post: B3_POST, thin: grayThin(B3_YRS), showX: false, label: "(e) CB5.2", labelX: 725, labelY: 637, labelAnchor: "start" },
  { box: [COL_B[0], 906, COL_B[1], 1170], ymax: 17, yTicks: TICKS_15, pre: B4_PRE, post: B4_POST, thin: grayThin(B4_YRS), showX: true, label: "(g) CB6.1", labelX: 728, labelY: 934, labelAnchor: "start" },
  { box: [COL_C[0], 10, COL_C[1], 280], ymax: 50, yTicks: TICKS_50, pre: C1_PRE, post: C1_POST, thin: grayThin(C1_YRS), showX: false, label: "(a) CB3.1", labelX: 1357, labelY: 265, labelAnchor: "start" },
  { box: [COL_C[0], 311, COL_C[1], 581], ymax: 30, yTicks: TICKS_30, pre: C2_PRE, post: C2_POST, thin: grayThin(C2_YRS), showX: false, label: "(c) CB3.3C", labelX: 1357, labelY: 337, labelAnchor: "start" },
  { box: [COL_C[0], 613, COL_C[1], 883], ymax: 16, yTicks: TICKS_15, pre: C3_PRE, post: C3_POST, thin: grayThin(C3_YRS), showX: false, label: "(e) CB5.2", labelX: 1364, labelY: 639, labelAnchor: "start" },
  { box: [COL_C[0], 913, COL_C[1], 1184], ymax: 14, yTicks: TICKS_14, pre: C4_PRE, post: C4_POST, thin: grayThin(C4_YRS), showX: true, label: "(g) CB6.1", labelX: 1362, labelY: 939, labelAnchor: "start" },
];

const toRows = (pts: Pt[]) => pts.map(([d, v]) => ({ d, v }));

const YW = 64;
const XH = 44;
const PAD = 14;

function Panel({ s }: { s: PanelSpec }) {
  const [x0, y0, x1, y1] = s.box;
  const w = x1 - x0;
  const h = y1 - y0;

  const yTick = (props: any) => {
    const { x, y, payload } = props;
    return (
      <g>
        <line x1={x} x2={x + TICK} y1={y} y2={y} stroke={INK} strokeWidth={1.4} />
        <line x1={x + w - TICK} x2={x + w} y1={y} y2={y} stroke={INK} strokeWidth={1.4} />
        <text x={x - 7} y={y} dy="0.36em" textAnchor="end" fontSize={17} fill={INK} fontFamily={SANS}>
          {payload.value}
        </text>
      </g>
    );
  };

  const xTick = (props: any) => {
    const { x, y, payload } = props;
    return (
      <g>
        <line x1={x} x2={x} y1={y - TICK} y2={y} stroke={INK} strokeWidth={1.4} />
        <line x1={x} x2={x} y1={y - h} y2={y - h + TICK} stroke={INK} strokeWidth={1.4} />
        {s.showX && (
          <text x={x} y={y + 25} textAnchor="middle" fontSize={17} fill={INK} fontFamily={SANS}>
            {payload.value}
          </text>
        )}
      </g>
    );
  };

  return (
    <div style={{ position: "absolute", left: x0 - YW, top: y0 - PAD }}>
      <LineChart
        width={YW + w + PAD}
        height={PAD + h + XH}
        margin={{ top: PAD, right: PAD, bottom: 0, left: 0 }}
      >
        <XAxis
          type="number"
          dataKey="d"
          domain={[0, 365]}
          ticks={DAY_TICKS}
          interval={0}
          height={XH}
          axisLine={false}
          tickLine={false}
          tickSize={0}
          tickMargin={0}
          tick={xTick}
          allowDataOverflow
        />
        <YAxis
          type="number"
          domain={[0, s.ymax]}
          ticks={s.yTicks}
          interval={0}
          width={YW}
          axisLine={false}
          tickLine={false}
          tickSize={0}
          tickMargin={0}
          tick={yTick}
          allowDataOverflow
        />
        {s.thin.map((t, i) => (
          <Line
            key={"yr" + i}
            data={toRows(t.pts)}
            dataKey="v"
            type="linear"
            stroke={t.color}
            strokeOpacity={t.opacity}
            strokeWidth={1}
            strokeDasharray={t.dash}
            dot={false}
            activeDot={false}
            isAnimationActive={false}
          />
        ))}
        <Line data={toRows(s.pre)} dataKey="v" type="linear" stroke={BLUE} strokeWidth={5} strokeLinejoin="round" dot={false} activeDot={false} isAnimationActive={false} />
        <Line data={toRows(s.post)} dataKey="v" type="linear" stroke={RED} strokeWidth={5} strokeLinejoin="round" dot={false} activeDot={false} isAnimationActive={false} />
      </LineChart>
    </div>
  );
}

function LegendBox({ x, y, w, h, l0, l1, tx, fs }: { x: number; y: number; w: number; h: number; l0: number; l1: number; tx: number; fs: number }) {
  const row1 = y + h * 0.29;
  const row2 = y + h * 0.71;
  return (
    <g>
      <rect x={x} y={y} width={w} height={h} fill="#fff" stroke={INK} strokeWidth={2} />
      <line x1={x + l0} x2={x + l1} y1={row1} y2={row1} stroke={BLUE} strokeWidth={5} />
      <line x1={x + l0} x2={x + l1} y1={row2} y2={row2} stroke={RED} strokeWidth={5} />
      <text x={x + tx} y={row1} dy="0.36em" fontSize={fs} fill={INK} fontFamily={SANS}>Pre-2000</text>
      <text x={x + tx} y={row2} dy="0.36em" fontSize={fs} fill={INK} fontFamily={SANS}>Post-2000</text>
    </g>
  );
}

function Note({ x, y, color, bold, rest, len }: { x: number; y: number; color: string; bold?: string; rest: string; len: number }) {
  return (
    <text x={x} y={y} fill={color} fontSize={24} fontStyle="italic" fontFamily={NOTE_FONT} textLength={len} lengthAdjust="spacingAndGlyphs">
      {bold && <tspan fontWeight="bold">{bold}</tspan>}
      {bold ? " " + rest : rest}
    </text>
  );
}

export default function App() {
  return (
    <div style={{ position: "absolute", left: 0, top: 0, width: 1891, height: 1236, background: "#fff", overflow: "hidden" }}>
      <div style={{ position: "absolute", left: 0, top: 1192, width: 640, height: 44, background: "linear-gradient(to bottom, #ffffff, #ececec)" }} />
      <div style={{ position: "absolute", left: 1290, top: 1203, width: 601, height: 33, background: "#f3f3f3" }} />
      {PANELS.map((s, i) => (
        <Panel key={i} s={s} />
      ))}
      <svg width={1891} height={1236} style={{ position: "absolute", left: 0, top: 0, pointerEvents: "none" }}>
        {PANELS.map((s, i) => (
          <g key={i}>
            <rect x={s.box[0]} y={s.box[1]} width={s.box[2] - s.box[0]} height={s.box[3] - s.box[1]} fill="none" stroke={INK} strokeWidth={2} />
            <text x={s.labelX} y={s.labelY} textAnchor={s.labelAnchor} fontSize={16} fill={INK} fontFamily={SANS}>
              {s.label}
            </text>
          </g>
        ))}
        <rect x={1275} y={484} width={4} height={247} fill="#fff" />

        <LegendBox x={1097} y={37} w={161} h={52} l0={9} l1={66} tx={72} fs={17} />
        <LegendBox x={1711} y={27} w={146} h={48} l0={8} l1={59} tx={65} fs={16} />

        {/* y-axis titles */}
        <text transform="translate(27,535) rotate(-90)" textAnchor="middle" fontSize={24} fill="#000" fontFamily={SANS}>
          Vertically-Averaged Chl-a (mg/m<tspan dy={-9} fontSize={15}>3</tspan><tspan dy={9}>)</tspan>
        </text>
        <text transform="translate(670,625) rotate(-90)" textAnchor="middle" fontSize={24} fill="#000" fontFamily={SANS}>
          Bottom NH<tspan dy={5} fontSize={15}>4</tspan><tspan dx={-8} dy={-15} fontSize={15}>+</tspan><tspan dy={10}> (μM)</tspan>
        </text>
        <text transform="translate(1313,607) rotate(-90)" textAnchor="middle" fontSize={24} fill="#000" fontFamily={SANS}>
          Bottom NO<tspan dy={5} fontSize={15}>23</tspan><tspan dy={-15} fontSize={15}>-</tspan><tspan dy={10}> (μM)</tspan>
        </text>

        {/* x-axis titles */}
        <text x={356} y={1213} textAnchor="middle" fontSize={19} fill={INK} fontFamily={SANS}>Days of the Year</text>
        <text x={996} y={1223} textAnchor="middle" fontSize={20.5} fill={INK} fontFamily={SANS}>Day of Year</text>
        <text x={1613} y={1232} textAnchor="middle" fontSize={19} fill={INK} fontFamily={SANS}>Day of Year</text>
        <text x={1284} y={1197} fontSize={17} fill={INK} fontFamily={SANS}>1</text>
        <text x={1879} y={1208} fontSize={17} fill={INK} fontFamily={SANS}>1</text>

        {/* annotations */}
        <Note x={338} y={132} color={RED} bold="Increasing" rest="winter" len={227} />
        <Note x={339} y={168} color={RED} rest="bloom up-Bay" len={177} />
        <Note x={845} y={59} color={RED} bold="Increasing" rest="NH4" len={200} />
        <Note x={845} y={97} color={RED} rest="In early summer" len={207} />
        <Note x={1566} y={355} color={GREEN} bold="Decreasing" rest="NOx" len={209} />
        <Note x={1566} y={393} color={GREEN} rest="In spring" len={109} />
        <Note x={1572} y={643} color={RED} bold="Increasing" rest="NOx" len={199} />
        <Note x={1572} y={680} color={RED} rest="In late summer" len={194} />
        <Note x={358} y={963} color={GREEN} bold="Decreasing" rest="spring" len={233} />
        <Note x={358} y={1001} color={GREEN} rest="bloom in lower Bay" len={246} />
        <Note x={756} y={987} color={GREEN} bold="Decreasing" rest="NH4" len={209} />
        <Note x={756} y={1025} color={GREEN} rest="In late summer" len={193} />

        {/* arrows */}
        <g stroke={GREEN} strokeWidth={3.5} fill="none" strokeLinecap="round">
          <line x1={1557} y1={391} x2={1463} y2={469} />
          <polyline points="1468,447 1463,469 1488,468" />
        </g>
        <g stroke={RED} strokeWidth={3.5} fill="none" strokeLinecap="round">
          <line x1={1631} y1={702} x2={1664} y2={759} />
          <polyline points="1642,749 1664,759 1667,737" />
        </g>
      </svg>
    </div>
  );
}
